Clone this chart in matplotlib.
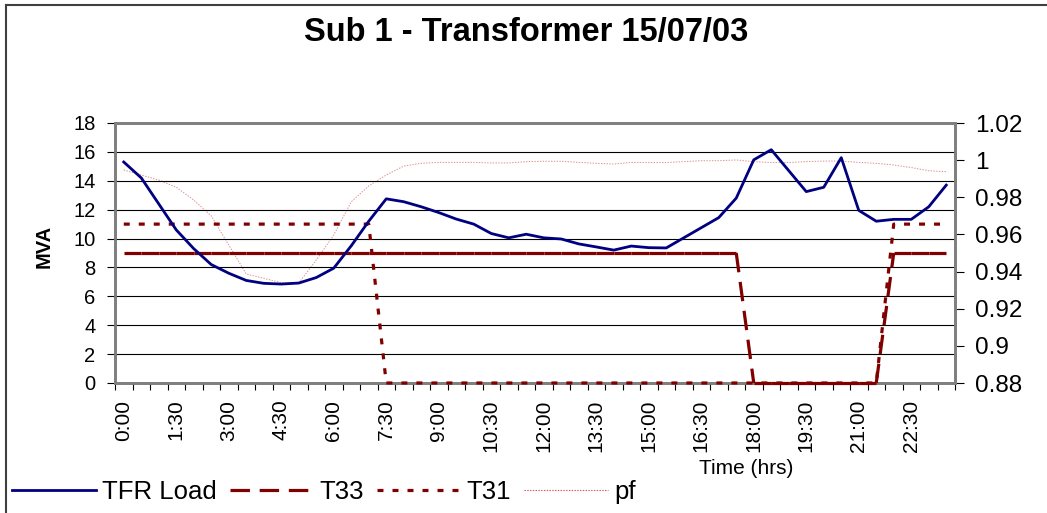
import numpy as np
import matplotlib
matplotlib.use("Agg")
import matplotlib.pyplot as plt
from matplotlib.lines import Line2D
from matplotlib.collections import LineCollection

plt.rcParams['font.family'] = ['Liberation Sans', 'DejaVu Sans']
plt.rcParams['lines.scale_dashes'] = False

# ---- data ----
time_labels = ["0:00", "1:30", "3:00", "4:30", "6:00", "7:30", "9:00", "10:30",
               "12:00", "13:30", "15:00", "16:30", "18:00", "19:30", "21:00", "22:30"]
n_slots = 48  # half-hour categories 0:00 .. 23:30

tfr_load = [15.3, 14.2, 12.4, 10.6, 9.3, 8.2, 7.6, 7.1, 6.9, 6.85,
            6.92, 7.3, 7.95, 9.5, 11.2, 12.75, 12.55, 12.2, 11.8, 11.35,
            11.0, 10.35, 10.05, 10.3, 10.05, 9.97, 9.63, 9.42, 9.2, 9.48,
            9.37, 9.35, 10.05, 10.75, 11.45, 12.8, 15.45, 16.15, 14.7, 13.25,
            13.55, 15.6, 11.95, 11.2, 11.33, 11.33, 12.2, 13.7]
t33 = [9, 9, 9, 9, 9, 9, 9, 9, 9, 9,
       9, 9, 9, 9, 9, 9, 9, 9, 9, 9,
       9, 9, 9, 9, 9, 9, 9, 9, 9, 9,
       9, 9, 9, 9, 9, 9, 0, 0, 0, 0,
       0, 0, 0, 0, 9, 9, 9, 9]
t31 = [11, 11, 11, 11, 11, 11, 11, 11, 11, 11,
       11, 11, 11, 11, 11, 0, 0, 0, 0, 0,
       0, 0, 0, 0, 0, 0, 0, 0, 0, 0,
       0, 0, 0, 0, 0, 0, 0, 0, 0, 0,
       0, 0, 0, 0, 11, 11, 11, 11]
pf = [0.9947, 0.992, 0.9893, 0.9854, 0.9785, 0.970, 0.9543, 0.9387, 0.9364, 0.934,
      0.9338, 0.9462, 0.9597, 0.9776, 0.9861, 0.992, 0.9968, 0.9983, 0.9988, 0.9988,
      0.9988, 0.9985, 0.9985, 0.9992, 0.9994, 0.9994, 0.9988, 0.9983, 0.9979, 0.9988,
      0.9987, 0.9987, 0.9992, 0.9997, 0.9997, 1.0001, 0.9992, 0.9987, 0.9987, 0.9992,
      0.9995, 0.9995, 0.9988, 0.9983, 0.9974, 0.996, 0.9943, 0.9938]
mva_ticks = [0, 2, 4, 6, 8, 10, 12, 14, 16, 18]
pf_ticks = [0.88, 0.90, 0.92, 0.94, 0.96, 0.98, 1.00, 1.02]
pf_tick_labels = ["0.88", "0.9", "0.92", "0.94", "0.96", "0.98", "1", "1.02"]

# ---- styles ----
NAVY = '#000080'
MAROON = '#800000'
PF_COL = '#dc9090'
SPINE = '#808080'
T33_DASH = (0, (14, 7))
T31_DASH = (0, (4.3, 6.5))

W, H = 1047, 513
fig = plt.figure(figsize=(W / 100, H / 100), dpi=100)
ax = fig.add_axes([115 / W, 1 - 383 / H, (955 - 115) / W, (383 - 123) / H])
ax2 = ax.twinx()

x = np.arange(n_slots)

ax.set_xlim(-0.5, n_slots - 0.5)
ax.set_ylim(0, 18)
ax2.set_ylim(0.88, 1.02)

ax.set_yticks(mva_ticks)
ax.set_yticklabels([str(v) for v in mva_ticks])
ax.grid(axis='y', color='black', lw=0.8, zorder=0)
ax.set_axisbelow(True)

ax.set_xticks(np.arange(-0.5, n_slots, 1.0))
ax.set_xticklabels([])
ax.set_xticks(np.arange(0, n_slots, 3), minor=True)
ax.set_xticklabels(time_labels, minor=True, rotation=90, fontsize=15)
ax.tick_params(axis='x', which='major', direction='out', length=5, width=0.8, color='black')
ax.tick_params(axis='x', which='minor', length=0, pad=12)
ax.tick_params(axis='y', direction='out', length=5.5, width=0.8, pad=8.5, labelsize=14.5)

ax2.set_yticks(pf_ticks)
ax2.set_yticklabels(pf_tick_labels)
ax2.tick_params(axis='y', direction='out', length=6.5, width=0.8, pad=8, labelsize=17.5)

for a in (ax, ax2):
    for s in a.spines.values():
        s.set_color(SPINE)
        s.set_linewidth(2)
        s.set_zorder(2.5)

# ---- series ----
ax.plot(x, tfr_load, color=NAVY, lw=2.0, zorder=7, clip_on=False)

# T33: flat runs render solid, transitions dashed (as in the reference)
t33_arr = np.asarray(t33, dtype=float)
t33_flat = [[(x[i], t33_arr[i]), (x[i + 1], t33_arr[i + 1])]
            for i in range(n_slots - 1) if t33_arr[i] == t33_arr[i + 1]]
t33_step = [[(x[i], t33_arr[i]), (x[i + 1], t33_arr[i + 1])]
            for i in range(n_slots - 1) if t33_arr[i] != t33_arr[i + 1]]
ax.add_collection(LineCollection(t33_flat, colors=MAROON, linewidths=2.3, zorder=6,
                                 clip_on=False, capstyle='butt'))
ax.add_collection(LineCollection(t33_step, colors=MAROON, linewidths=2.3, zorder=6,
                                 clip_on=False, linestyles=[T33_DASH], capstyle='butt'))

ax.plot(x, t31, color=MAROON, lw=2.3, linestyle=T31_DASH, zorder=6, clip_on=False,
        dash_capstyle='butt')
ax2.plot(x, pf, color=PF_COL, lw=0.7, linestyle=(0, (1, 1)), zorder=2, clip_on=False)
ax2.set_zorder(ax.get_zorder() - 1)
ax.patch.set_visible(False)

# ---- text ----
fig.text(526 / W, 1 - 32 / H, 'Sub 1 - Transformer 15/07/03', ha='center', va='center',
         fontsize=23.5, fontweight='bold')
fig.text(44 / W, 1 - 246 / H, 'MVA', rotation=90, ha='center', va='center',
         fontsize=14.5, fontweight='bold')
fig.text(746 / W, 1 - 468 / H, 'Time (hrs)', ha='center', va='center', fontsize=15)

h_load = Line2D([], [], color=NAVY, lw=2.0)
h_t33 = Line2D([], [], color=MAROON, lw=2.3, linestyle=T33_DASH, dash_capstyle='butt')
h_t31 = Line2D([], [], color=MAROON, lw=2.3, linestyle=T31_DASH, dash_capstyle='butt')
h_pf = Line2D([], [], color='#e05050', lw=0.8, linestyle=(0, (1, 1)))
fig.legend([h_load, h_t33, h_t31, h_pf], ['TFR Load', 'T33', 'T31', 'pf'],
           loc='center left', bbox_to_anchor=(12 / W, 1 - 492 / H), ncol=4,
           frameon=False, fontsize=18.5, handlelength=3.25, handletextpad=0.25,
           columnspacing=0.5, borderpad=0, borderaxespad=0)

# chart-area border (left and top edges)
fig.add_artist(Line2D([6 / W, 6 / W], [0, 1 - 5 / H], color='#404040', lw=1.5,
                      transform=fig.transFigure))
fig.add_artist(Line2D([6 / W, 1], [1 - 5 / H, 1 - 5 / H], color='#404040', lw=1.5,
                      transform=fig.transFigure))

fig.savefig('out.png', dpi=100)
